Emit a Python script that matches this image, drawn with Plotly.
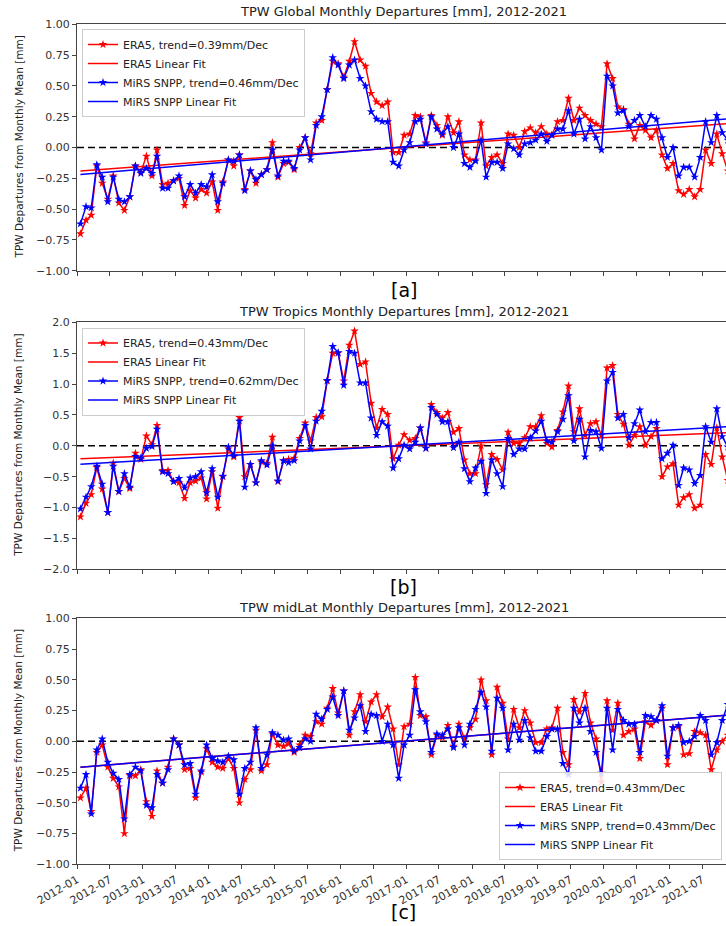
import plotly.graph_objects as go

# ---------------- data ----------------
n_months = 120
dates = [f"{2012 + i // 12}-{i % 12 + 1:02d}-20" for i in range(n_months)]

tick_dates = [f"{2012 + k // 2}-{'01' if k % 2 == 0 else '07'}-01" for k in range(20)]
tick_labels = [f"{2012 + k // 2}-{'01' if k % 2 == 0 else '07'}" for k in range(20)]

global_era5 = [-0.70,-0.59,-0.55,-0.15,-0.29,-0.42,-0.23,-0.45,-0.51,-0.40,
 -0.15,-0.20,-0.07,-0.23,-0.02,-0.30,-0.29,-0.27,-0.25,-0.47,
 -0.35,-0.41,-0.34,-0.37,-0.28,-0.51,-0.28,-0.10,-0.15,-0.06,
 -0.34,-0.19,-0.29,-0.22,-0.18,0.04,-0.24,-0.13,-0.12,-0.18,
 0.00,0.08,-0.05,0.20,0.22,0.47,0.70,0.68,0.57,0.70,
 0.86,0.71,0.66,0.44,0.37,0.34,0.37,-0.04,-0.04,0.10,
 0.11,0.26,0.25,0.04,0.26,0.18,0.10,0.25,0.12,0.21,
 -0.06,-0.10,-0.10,0.20,-0.15,-0.08,-0.06,-0.13,0.11,0.10,
 0.00,0.13,0.16,0.12,0.17,0.11,0.10,0.21,0.22,0.40,
 0.22,0.32,0.26,0.22,0.19,0.17,0.68,0.56,0.33,0.31,
 0.19,0.07,0.18,0.14,0.08,0.14,-0.06,-0.17,-0.13,-0.35,
 -0.38,-0.34,-0.40,-0.34,-0.02,-0.13,0.11,-0.05,-0.19,-0.10]

global_mirs = [-0.62,-0.48,-0.49,-0.14,-0.24,-0.44,-0.24,-0.42,-0.44,-0.40,
 -0.15,-0.21,-0.17,-0.21,-0.07,-0.33,-0.33,-0.27,-0.23,-0.40,
 -0.30,-0.37,-0.30,-0.32,-0.22,-0.44,-0.29,-0.10,-0.11,-0.06,
 -0.35,-0.19,-0.26,-0.22,-0.18,-0.02,-0.23,-0.11,-0.11,-0.17,
 -0.02,0.08,-0.10,0.18,0.25,0.47,0.73,0.67,0.56,0.67,
 0.71,0.56,0.50,0.29,0.23,0.21,0.21,-0.12,-0.15,-0.02,
 0.04,0.21,0.23,0.03,0.25,0.15,0.11,0.17,0.00,0.11,
 -0.13,-0.16,-0.11,0.06,-0.24,-0.12,-0.12,-0.17,0.03,-0.01,
 -0.06,0.03,0.04,0.06,0.11,0.05,0.10,0.15,0.15,0.30,
 0.11,0.23,0.07,0.17,0.08,-0.02,0.58,0.50,0.28,0.30,
 0.17,0.22,0.26,0.17,0.26,0.23,0.08,-0.08,0.00,-0.23,
 -0.16,-0.16,-0.24,-0.08,0.21,0.04,0.26,0.12,0.06,0.10]

tropics_era5 = [-1.15,-0.93,-0.79,-0.35,-0.70,-1.08,-0.28,-0.74,-0.53,-0.69,
 -0.12,-0.22,0.16,0.02,0.33,-0.40,-0.40,-0.58,-0.60,-0.85,
 -0.60,-0.57,-0.52,-0.86,-0.42,-1.01,-0.50,-0.05,-0.18,0.46,
 -0.50,-0.30,-0.60,-0.26,-0.28,0.14,-0.58,-0.24,-0.22,-0.20,
 0.12,0.37,0.08,0.46,0.47,1.05,1.50,1.50,1.05,1.63,
 1.86,1.32,1.36,0.69,0.29,0.59,0.51,-0.21,0.01,0.18,
 0.09,0.12,0.29,-0.04,0.67,0.54,0.45,0.54,0.22,0.28,
 -0.23,-0.45,-0.45,0.00,-0.63,-0.14,-0.22,-0.39,0.22,0.04,
 0.04,0.13,0.31,0.31,0.49,0.04,-0.02,0.25,0.55,0.97,
 0.23,0.60,0.17,0.36,0.39,0.17,1.26,1.30,0.51,0.35,
 0.01,0.17,0.31,0.01,0.15,0.28,-0.50,-0.34,-0.29,-0.96,
 -0.84,-0.79,-1.01,-0.96,-0.14,-0.30,0.29,-0.18,-0.56,-0.50]

tropics_mirs = [-1.02,-0.83,-0.66,-0.33,-0.62,-1.08,-0.33,-0.74,-0.45,-0.67,
 -0.17,-0.20,-0.04,-0.01,0.27,-0.42,-0.45,-0.58,-0.53,-0.68,
 -0.52,-0.50,-0.42,-0.76,-0.37,-0.83,-0.49,-0.02,-0.16,0.40,
 -0.67,-0.30,-0.60,-0.24,-0.31,0.00,-0.57,-0.24,-0.27,-0.24,
 0.08,0.33,-0.05,0.40,0.56,1.06,1.61,1.51,0.98,1.53,
 1.50,1.02,1.02,0.45,0.17,0.39,0.32,-0.36,-0.21,0.01,
 -0.05,0.06,0.29,-0.04,0.62,0.51,0.39,0.39,-0.03,0.06,
 -0.37,-0.58,-0.36,-0.25,-0.77,-0.23,-0.45,-0.66,0.12,-0.14,
 -0.05,-0.05,0.13,0.24,0.40,0.08,0.06,0.23,0.43,0.81,
 0.08,0.43,-0.18,0.25,0.23,-0.04,1.05,1.19,0.45,0.51,
 0.13,0.36,0.58,0.23,0.38,0.38,-0.21,-0.12,0.01,-0.64,
 -0.36,-0.39,-0.61,-0.48,0.31,0.06,0.60,0.15,-0.02,0.10]

midlat_era5 = [-0.46,-0.38,-0.57,-0.09,-0.03,-0.21,-0.30,-0.37,-0.75,-0.28,
 -0.28,-0.23,-0.49,-0.61,-0.24,-0.34,-0.21,0.02,-0.03,-0.23,
 -0.22,-0.46,-0.25,-0.06,-0.17,-0.21,-0.22,-0.14,-0.22,-0.50,
 -0.31,-0.23,0.09,-0.24,-0.19,0.06,-0.03,-0.04,-0.02,-0.09,
 -0.03,0.05,0.04,0.16,0.14,0.27,0.43,0.23,0.41,0.05,
 0.24,0.38,0.16,0.32,0.38,0.20,0.28,0.10,-0.19,0.12,
 0.14,0.52,0.21,0.20,-0.11,0.05,0.03,0.13,-0.04,0.14,
 0.02,0.11,0.18,0.50,0.33,-0.11,0.44,0.31,0.02,0.26,
 0.11,0.25,0.15,-0.01,-0.01,0.10,0.11,0.27,-0.09,-0.19,
 0.34,0.24,0.39,0.15,0.02,-0.33,0.33,0.09,0.31,0.05,
 0.08,0.10,-0.14,0.16,0.13,0.17,0.27,-0.19,0.11,0.12,
 -0.11,-0.10,0.08,0.07,0.05,-0.23,-0.07,0.00,0.05,0.05]

midlat_mirs = [-0.38,-0.27,-0.59,-0.07,0.02,-0.17,-0.26,-0.31,-0.63,-0.27,
 -0.21,-0.24,-0.52,-0.54,-0.27,-0.34,-0.23,0.02,-0.03,-0.19,
 -0.18,-0.43,-0.24,-0.03,-0.14,-0.16,-0.17,-0.12,-0.15,-0.43,
 -0.22,-0.17,0.11,-0.22,-0.11,0.07,0.05,0.01,0.02,-0.08,
 -0.05,0.02,0.00,0.22,0.18,0.26,0.36,0.21,0.41,0.09,
 0.19,0.29,0.08,0.22,0.21,0.00,0.14,-0.03,-0.30,-0.03,
 0.05,0.42,0.24,0.16,-0.09,0.06,0.05,0.10,-0.05,0.11,
 -0.03,0.14,0.26,0.40,0.28,-0.08,0.35,0.27,-0.07,0.14,
 0.01,0.17,0.03,-0.08,-0.08,0.04,0.10,0.10,-0.18,-0.27,
 0.27,0.15,0.27,0.08,-0.09,-0.26,0.27,-0.07,0.26,0.17,
 0.14,0.14,-0.09,0.21,0.20,0.17,0.29,-0.12,0.11,0.13,
 -0.01,0.00,0.04,0.21,0.17,-0.11,-0.01,0.17,0.30,0.15]

# linear-fit parameters (value at first month, trend in mm per decade)
panel_names = ["Global", "Tropics", "midLat"]
fit_start_era5 = [-0.19, -0.21, -0.21]
fit_start_mirs = [-0.22, -0.30, -0.21]
trend_era5 = [0.39, 0.43, 0.43]
trend_mirs = [0.46, 0.62, 0.43]
panel_labels = ["[a]", "[b]", "[c]"]
y_ranges = [(-1.0, 1.0), (-2.0, 2.0), (-1.0, 1.0)]
y_dticks = [0.25, 0.5, 0.25]
y_formats = [".2f", ".1f", ".2f"]

era5_series = [global_era5, tropics_era5, midlat_era5]
mirs_series = [global_mirs, tropics_mirs, midlat_mirs]

# ---------------- figure ----------------
W, H = 726, 926
FONT = "DejaVu Sans"
plot_left = 77
# plot-area pixel extents (top, bottom) for each panel
panel_px = [(24.3, 270.7), (322.3, 569.3), (618.3, 864.3)]
title_px = [12, 311.5, 607]
label_px = [290, 587, 912]
# legend anchor: (left, y, yanchor)
legend_pos = [(82, 29, "top"), (82, 327.5, "top"), (499, 860, "bottom")]

fig = go.Figure()
layout = dict(
    width=W, height=H, autosize=False,
    margin=dict(l=0, r=0, t=0, b=0, autoexpand=False),
    paper_bgcolor="white", plot_bgcolor="white",
    font=dict(family=FONT, color="#222222", size=11),
    showlegend=True,
)
annotations = []
shapes = []
x_range = ["2012-01-01", "2021-11-10"]

for p in range(3):
    sfx = "" if p == 0 else str(p + 1)
    xa, ya = "x" + sfx, "y" + sfx
    lg = "legend" + sfx
    era5 = era5_series[p]
    mirs = mirs_series[p]
    fit_e = [fit_start_era5[p] + trend_era5[p] * i / 120 for i in range(n_months)]
    fit_m = [fit_start_mirs[p] + trend_mirs[p] * i / 120 for i in range(n_months)]

    fig.add_trace(go.Scatter(x=dates, y=era5, mode="lines+markers", xaxis=xa, yaxis=ya,
                             name=f"ERA5, trend={trend_era5[p]:.2f}mm/Dec", legend=lg,
                             line=dict(color="red", width=1.5),
                             marker=dict(symbol="star", size=6.5, color="red")))
    fig.add_trace(go.Scatter(x=dates, y=fit_e, mode="lines", xaxis=xa, yaxis=ya,
                             name="ERA5 Linear Fit", legend=lg,
                             line=dict(color="red", width=1.5)))
    fig.add_trace(go.Scatter(x=dates, y=mirs, mode="lines+markers", xaxis=xa, yaxis=ya,
                             name=f"MiRS SNPP, trend={trend_mirs[p]:.2f}mm/Dec", legend=lg,
                             line=dict(color="blue", width=1.5),
                             marker=dict(symbol="star", size=6.5, color="blue")))
    fig.add_trace(go.Scatter(x=dates, y=fit_m, mode="lines", xaxis=xa, yaxis=ya,
                             name="MiRS SNPP Linear Fit", legend=lg,
                             line=dict(color="blue", width=1.5)))

    top, bot = panel_px[p]
    dom = [1 - bot / H, 1 - top / H]
    layout["xaxis" + sfx] = dict(
        domain=[plot_left / W, 1], anchor=ya, type="date", range=x_range,
        tickmode="array", tickvals=tick_dates,
        ticktext=tick_labels if p == 2 else [""] * len(tick_dates),
        tickangle=-30 if p == 2 else 0,
        ticks="outside", ticklen=4, tickcolor="#444444",
        showline=True, linecolor="#444444", linewidth=1, mirror=True,
        showgrid=False, zeroline=False, automargin=False,
        tickfont=dict(size=11, color="#333333"),
    )
    layout["yaxis" + sfx] = dict(
        domain=dom, anchor=xa, range=list(y_ranges[p]),
        tick0=y_ranges[p][0], dtick=y_dticks[p], tickformat=y_formats[p],
        ticks="outside", ticklen=4, tickcolor="#444444",
        showline=True, linecolor="#444444", linewidth=1,
        showgrid=False, zeroline=False, automargin=False,
        tickfont=dict(size=11, color="#333333"),
    )
    shapes.append(dict(type="line", xref=xa + " domain", yref=ya, x0=0, x1=1, y0=0, y1=0,
                       line=dict(color="black", width=1.5, dash="7px,4px"), layer="below"))
    annotations.append(dict(text=f"TPW {panel_names[p]} Monthly Departures [mm], 2012-2021",
                            xref="paper", yref="paper", x=404 / W, y=1 - title_px[p] / H,
                            xanchor="center", yanchor="middle", showarrow=False,
                            font=dict(size=13, color="#222222")))
    annotations.append(dict(text=panel_labels[p], xref="paper", yref="paper",
                            x=404 / W, y=1 - label_px[p] / H,
                            xanchor="center", yanchor="middle", showarrow=False,
                            font=dict(size=19, color="black")))
    annotations.append(dict(text="TPW Departures from Monthly Mean [mm]", textangle=-90,
                            xref="paper", yref="paper", x=18 / W, y=(dom[0] + dom[1]) / 2,
                            xanchor="center", yanchor="middle", showarrow=False,
                            font=dict(size=10.5, color="#222222")))
    lx, ly, lanchor = legend_pos[p]
    layout[lg] = dict(x=lx / W, y=1 - ly / H, xanchor="left", yanchor=lanchor,
                      bgcolor="rgba(255,255,255,0.85)", bordercolor="#cccccc", borderwidth=1,
                      font=dict(size=11, color="#222222"), tracegroupgap=0)

layout["annotations"] = annotations
layout["shapes"] = shapes
fig.update_layout(**layout)

fig.write_html("out.html", config={"displayModeBar": False},
               post_script="document.body.style.margin='0';")
